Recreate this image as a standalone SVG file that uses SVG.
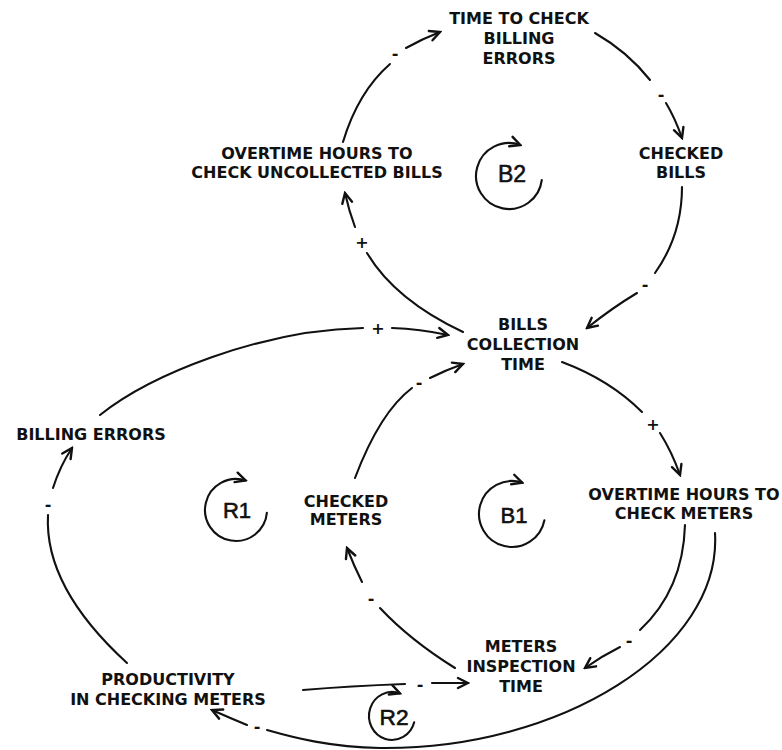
<svg xmlns="http://www.w3.org/2000/svg" width="782" height="750" viewBox="0 0 782 750">
  <style>
    .lbl { font-family: "DejaVu Sans", Verdana, sans-serif; font-weight: bold; font-size: 16px; text-anchor: middle; fill: #111; }
    .loop { font-family: "Liberation Sans", Arial, sans-serif; font-size: 22px; text-anchor: middle; fill: #111; stroke: #111; stroke-width: 0.6; }
    .sg { font-family: "DejaVu Sans", Verdana, sans-serif; font-weight: bold; font-size: 16px; text-anchor: middle; fill: #111; }
    .c { fill: none; stroke: #111; stroke-width: 2.1; stroke-linecap: round; }
    .h { marker-end: url(#arr); }
  </style>
  <defs>
    <marker id="arr" viewBox="-12 -7 14 14" refX="0" refY="0" markerWidth="14" markerHeight="14" markerUnits="userSpaceOnUse" orient="auto">
      <path d="M-10,-5 L0,0 L-10,5" fill="none" stroke="#111" stroke-width="2.4" stroke-linecap="round" stroke-linejoin="miter"/>
    </marker>
  </defs>
  <rect width="782" height="750" fill="#fff"/>

  <!-- causal links: tail piece, polarity sign, arrowed head piece -->
  <g id="connectors">
    <!-- overtime (bills) -> time to check billing errors -->
    <path class="c" d="M343,142 Q358,92 390,64"/>
    <text class="sg" x="395" y="59">-</text>
    <path class="c h" d="M406,48 Q422,39 440,32"/>

    <!-- time to check billing errors -> checked bills -->
    <path class="c" d="M595,33 Q628,52 650,80"/>
    <text class="sg" x="661" y="100">-</text>
    <path class="c h" d="M666,103 Q675,118 682,138"/>

    <!-- checked bills -> bills collection time -->
    <path class="c" d="M682,187 Q682,235 655,273"/>
    <text class="sg" x="645" y="290">-</text>
    <path class="c h" d="M637,293 Q612,308 587,328"/>

    <!-- bills collection time -> overtime (bills) -->
    <path class="c" d="M463,332 Q395,300 367,253"/>
    <text class="sg" x="362" y="248">+</text>
    <path class="c h" d="M355,227 Q349,211 345,193"/>

    <!-- billing errors -> bills collection time -->
    <path class="c" d="M100,415 C150,375 260,330 363,328"/>
    <text class="sg" x="378" y="334">+</text>
    <path class="c h" d="M392,328 Q420,329 448,335"/>

    <!-- checked meters -> bills collection time -->
    <path class="c" d="M355,478 Q380,412 412,388"/>
    <text class="sg" x="419" y="388">-</text>
    <path class="c h" d="M430,378 Q446,370 463,364"/>

    <!-- bills collection time -> overtime (meters) -->
    <path class="c" d="M562,362 Q610,380 642,412"/>
    <text class="sg" x="653" y="430">+</text>
    <path class="c h" d="M660,433 Q672,452 680,475"/>

    <!-- overtime (meters) -> meters inspection time -->
    <path class="c" d="M685,525 Q683,590 640,630"/>
    <text class="sg" x="629" y="646">-</text>
    <path class="c h" d="M620,647 Q602,656 585,668"/>

    <!-- overtime (meters) -> productivity -->
    <path class="c" d="M715,533 C722,650 560,750 380,748 C330,747 295,738 267,730"/>
    <text class="sg" x="257" y="732">-</text>
    <path class="c h" d="M247,725 Q230,718 212,710"/>

    <!-- meters inspection time -> checked meters -->
    <path class="c" d="M455,668 Q410,640 380,608"/>
    <text class="sg" x="371" y="604">-</text>
    <path class="c h" d="M362,582 Q354,566 347,548"/>

    <!-- productivity -> billing errors -->
    <path class="c" d="M127,663 C80,620 45,570 48,515"/>
    <text class="sg" x="48" y="510">-</text>
    <path class="c h" d="M53,488 Q60,466 72,448"/>

    <!-- productivity -> meters inspection time -->
    <path class="c" d="M303,690 Q350,686 405,684"/>
    <text class="sg" x="420" y="690">-</text>
    <path class="c h" d="M432,683 L468,683"/>
  </g>

  <!-- variables -->
  <g id="n-time-check">
    <text class="lbl" x="519" y="24">TIME TO CHECK</text>
    <text class="lbl" x="519" y="44">BILLING</text>
    <text class="lbl" x="519" y="64">ERRORS</text>
  </g>
  <g id="n-overtime-bills">
    <text class="lbl" x="317" y="159">OVERTIME HOURS TO</text>
    <text class="lbl" x="317" y="178">CHECK UNCOLLECTED BILLS</text>
  </g>
  <g id="n-checked-bills">
    <text class="lbl" x="681" y="159">CHECKED</text>
    <text class="lbl" x="681" y="178">BILLS</text>
  </g>
  <g id="n-bills-collection">
    <text class="lbl" x="523" y="330">BILLS</text>
    <text class="lbl" x="523" y="350">COLLECTION</text>
    <text class="lbl" x="523" y="370">TIME</text>
  </g>
  <g id="n-billing-errors">
    <text class="lbl" x="91" y="440">BILLING ERRORS</text>
  </g>
  <g id="n-checked-meters">
    <text class="lbl" x="346" y="507">CHECKED</text>
    <text class="lbl" x="346" y="525">METERS</text>
  </g>
  <g id="n-overtime-meters">
    <text class="lbl" x="684" y="500">OVERTIME HOURS TO</text>
    <text class="lbl" x="684" y="519">CHECK METERS</text>
  </g>
  <g id="n-meters-inspection">
    <text class="lbl" x="521" y="652">METERS</text>
    <text class="lbl" x="521" y="672">INSPECTION</text>
    <text class="lbl" x="521" y="692">TIME</text>
  </g>
  <g id="n-productivity">
    <text class="lbl" x="168" y="685">PRODUCTIVITY</text>
    <text class="lbl" x="168" y="705">IN CHECKING METERS</text>
  </g>

  <!-- loop identifiers -->
  <g id="loop-b2">
    <path class="c h" d="M541.8,180 A33,33 0 1 1 520.3,145"/>
    <text class="loop" x="512" y="182" style="font-size:23px">B2</text>
  </g>
  <g id="loop-r1">
    <path class="c h" d="M266.9,512.7 A31,31 0 1 1 245.6,480.5"/>
    <text class="loop" x="237" y="518">R1</text>
  </g>
  <g id="loop-b1">
    <path class="c h" d="M544.4,520.3 A33,33 0 1 1 522.2,482.6"/>
    <text class="loop" x="514" y="523">B1</text>
  </g>
  <g id="loop-r2">
    <path class="c h" d="M414.2,722.2 A23,24 0 1 1 399.9,693.4"/>
    <text class="loop" x="394" y="725" textLength="29" lengthAdjust="spacingAndGlyphs">R2</text>
  </g>
</svg>
